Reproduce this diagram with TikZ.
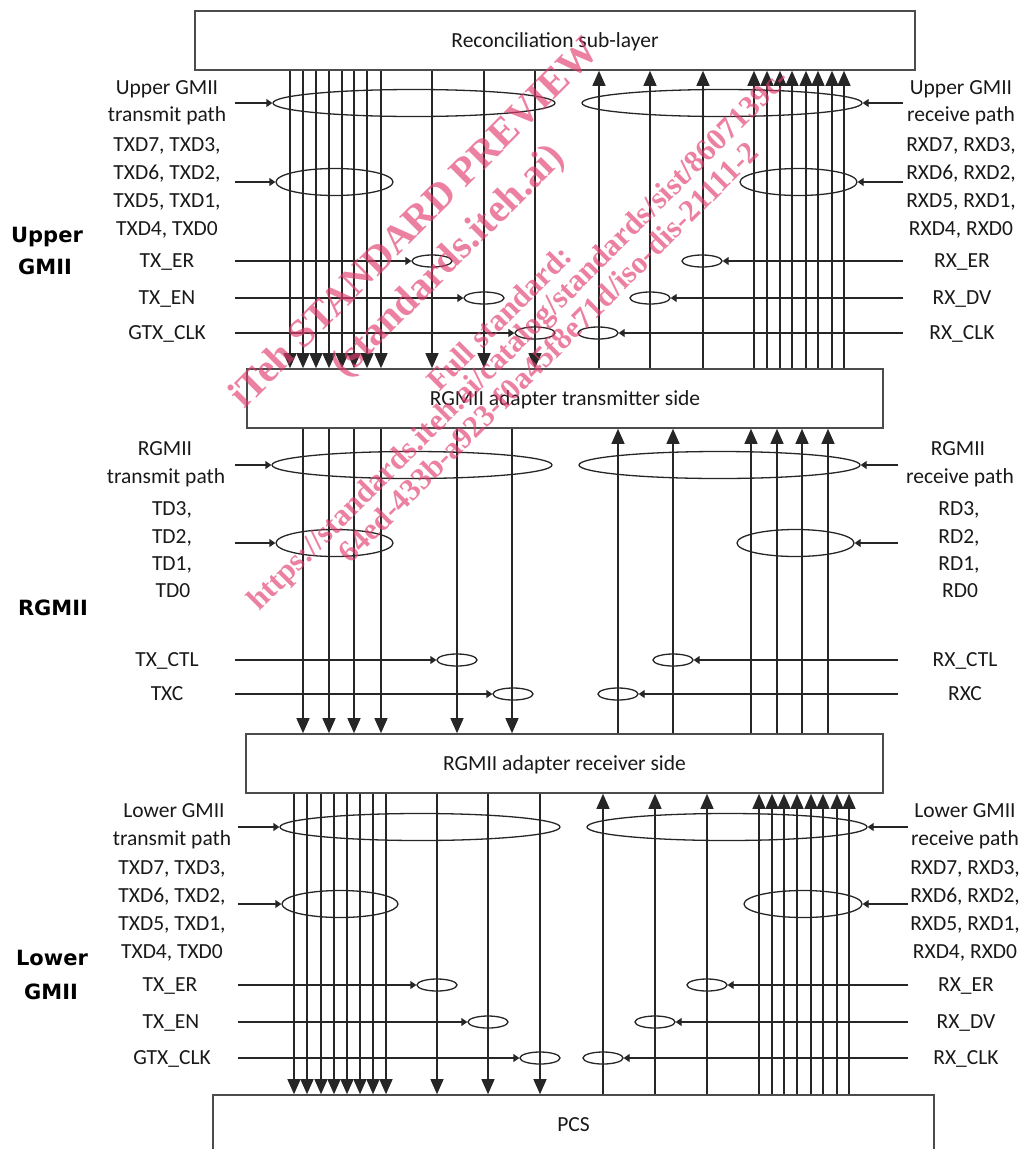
\documentclass[tikz,border=0pt]{standalone}
\usepackage{fontspec}
\setmainfont{Carlito}
\newfontfamily\seclabfont{DejaVu Sans}
\newfontfamily\wmfont{Liberation Serif}
\usetikzlibrary{arrows.meta,shapes.geometric}
\definecolor{wm}{RGB}{225,60,110}
\tikzset{
  blk/.style={draw=black!70, line width=1.6pt, inner sep=0pt, text=black!90,
    font=\fontsize{21.5}{24}\selectfont, text height=15pt, text depth=2pt},
  sig/.style={line width=1.3pt, draw=black!85, -{Triangle[length=15pt,width=13pt]}},
  feed/.style={line width=1.3pt, draw=black!85, -{Triangle[length=6pt,width=8pt]}},
  oval/.style={ellipse, draw=black!85, line width=1.3pt, inner sep=0pt},
  bigov/.style={oval, minimum width=281pt, minimum height=27pt},
  midov/.style={oval, minimum width=117pt, minimum height=27pt},
  smlov/.style={oval, minimum width=40pt, minimum height=12pt},
  lab/.style={inner sep=0pt, text=black!90, font=\fontsize{21.5}{24}\selectfont,
    text height=15pt, text depth=2pt},
  sec/.style={inner sep=0pt, text=black, font=\seclabfont\bfseries\fontsize{21}{24}\selectfont,
    text height=15pt, text depth=1pt},
  wmk/.style={inner sep=0pt, text=wm, text opacity=0.65, rotate=45}
}
\begin{document}
\begin{tikzpicture}[x=1pt,y=-1pt]
\useasboundingbox (0,0) rectangle (1025,1149);

% ---------- layer boxes ----------
\node[blk, minimum width=720pt, minimum height=59pt] (rsl) at (555,40.5) {Reconciliation sub-layer};
\node[blk, minimum width=636pt, minimum height=59pt] (rtx) at (565,398.5) {RGMII adapter transmitter side};
\node[blk, minimum width=637pt, minimum height=59pt] (rrx) at (564.5,763.5) {RGMII adapter receiver side};
\node[blk, minimum width=721pt, minimum height=60pt] (pcs) at (573.5,1125) {PCS};

% ---------- vertical signal lines ----------
% Upper GMII
\foreach \x in {290,303,316,329,342,354,367,381,432,484,535}
  \draw[sig] (rsl.south -| \x,0) -- (rtx.north -| \x,0);
\foreach \x in {599,650,703,754,767,780,792,806,818,832,844}
  \draw[sig] (rtx.north -| \x,0) -- (rsl.south -| \x,0);
% RGMII
\foreach \x in {303,329,354,381,457,512}
  \draw[sig] (rtx.south -| \x,0) -- (rrx.north -| \x,0);
\foreach \x in {618,673,751,777,802,828}
  \draw[sig] (rrx.north -| \x,0) -- (rtx.south -| \x,0);
% Lower GMII
\foreach \x in {294,307,321,334,347,360,373,386,437,488,540}
  \draw[sig] (rrx.south -| \x,0) -- (pcs.north -| \x,0);
\foreach \x in {603,655,707,759,772,784,797,811,823,837,849}
  \draw[sig] (pcs.north -| \x,0) -- (rrx.south -| \x,0);

% ---------- grouping ellipses ----------
% Upper GMII
\node[bigov, minimum width=282pt] (utb) at (414,103) {};
\node[midov] (utm) at (334.5,182) {};
\node[smlov] (uter) at (432,261) {};
\node[smlov] (uten) at (484,298) {};
\node[smlov] (utck) at (535,333) {};
\node[bigov, minimum width=280pt] (urb) at (722,103) {};
\node[midov] (urm) at (798.5,182) {};
\node[smlov] (urer) at (702,261) {};
\node[smlov] (urdv) at (650,298) {};
\node[smlov] (urck) at (598,333) {};
% RGMII
\node[bigov, minimum width=280pt] (mtb) at (412,465) {};
\node[midov] (mtm) at (334.5,543) {};
\node[smlov] (mtct) at (457,660) {};
\node[smlov] (mtxc) at (513,694) {};
\node[bigov] (mrb) at (719.5,465) {};
\node[midov] (mrm) at (795.5,543) {};
\node[smlov] (mrct) at (673,660) {};
\node[smlov] (mrxc) at (618,694) {};
% Lower GMII
\node[bigov, minimum width=280pt] (ltb) at (420,827) {};
\node[midov, minimum width=116pt] (ltm) at (340,904) {};
\node[smlov] (lter) at (437,985) {};
\node[smlov] (lten) at (488,1022) {};
\node[smlov] (ltck) at (540,1058) {};
\node[bigov, minimum width=280pt] (lrb) at (727,827) {};
\node[midov, minimum width=118pt] (lrm) at (803,904) {};
\node[smlov] (lrer) at (707,985) {};
\node[smlov] (lrdv) at (655,1022) {};
\node[smlov] (lrck) at (603,1058) {};

% ---------- feed arrows into the ellipses ----------
\foreach \n/\y in {utb/103,utm/182,uter/261,uten/298,utck/333,
                   mtb/465,mtm/543,mtct/660,mtxc/694}
  {\coordinate (s\n) at (235,\y); \draw[feed] (s\n) -- (\n.west);}
\foreach \n/\y in {urb/103,urm/182,urer/261,urdv/298,urck/333}
  {\coordinate (s\n) at (903,\y); \draw[feed] (s\n) -- (\n.east);}
\foreach \n/\y in {mrb/465,mrm/543,mrct/660,mrxc/694}
  {\coordinate (s\n) at (898,\y); \draw[feed] (s\n) -- (\n.east);}
\foreach \n/\y in {ltb/827,ltm/904,lter/985,lten/1022,ltck/1058}
  {\coordinate (s\n) at (238,\y); \draw[feed] (s\n) -- (\n.west);}
\foreach \n/\y in {lrb/827,lrm/904,lrer/985,lrdv/1022,lrck/1058}
  {\coordinate (s\n) at (908,\y); \draw[feed] (s\n) -- (\n.east);}

% ---------- signal labels ----------
% Upper GMII, left
\node[lab] (ul1) at (167,88) {Upper GMII};
\node[lab] (ul2) at (167,115) {transmit path};
\node[lab] (ul3) at (167,145) {TXD7, TXD3,};
\node[lab] (ul4) at (167,173) {TXD6, TXD2,};
\node[lab] (ul5) at (167,201) {TXD5, TXD1,};
\node[lab] (ul6) at (167,229) {TXD4, TXD0};
\node[lab] (ul7) at (167,261) {TX\_ER};
\node[lab] (ul8) at (167,298) {TX\_EN};
\node[lab] (ul9) at (167,333) {GTX\_CLK};
% Upper GMII, right
\node[lab] (ur1) at (961,88) {Upper GMII};
\node[lab] (ur2) at (961,115) {receive path};
\node[lab] (ur3) at (961,145) {RXD7, RXD3,};
\node[lab] (ur4) at (961,173) {RXD6, RXD2,};
\node[lab] (ur5) at (961,201) {RXD5, RXD1,};
\node[lab] (ur6) at (961,229) {RXD4, RXD0};
\node[lab] (ur7) at (962,261) {RX\_ER};
\node[lab] (ur8) at (962,298) {RX\_DV};
\node[lab] (ur9) at (962,333) {RX\_CLK};
% RGMII, left
\node[lab] (ml1) at (165,449) {RGMII};
\node[lab] (ml2) at (166,477) {transmit path};
\node[lab] (ml3) at (172,509) {TD3,};
\node[lab] (ml4) at (172,537) {TD2,};
\node[lab] (ml5) at (172,564) {TD1,};
\node[lab] (ml6) at (173,591) {TD0};
\node[lab] (ml7) at (167,660) {TX\_CTL};
\node[lab] (ml8) at (167,694) {TXC};
% RGMII, right
\node[lab] (mr1) at (958,449) {RGMII};
\node[lab] (mr2) at (960,477) {receive path};
\node[lab] (mr3) at (959,509) {RD3,};
\node[lab] (mr4) at (959,537) {RD2,};
\node[lab] (mr5) at (959,564) {RD1,};
\node[lab] (mr6) at (960,591) {RD0};
\node[lab] (mr7) at (965,660) {RX\_CTL};
\node[lab] (mr8) at (965,694) {RXC};
% Lower GMII, left
\node[lab] (ll1) at (174,811) {Lower GMII};
\node[lab] (ll2) at (172,839) {transmit path};
\node[lab] (ll3) at (172,868) {TXD7, TXD3,};
\node[lab] (ll4) at (172,896) {TXD6, TXD2,};
\node[lab] (ll5) at (172,924) {TXD5, TXD1,};
\node[lab] (ll6) at (172,952) {TXD4, TXD0};
\node[lab] (ll7) at (170,985) {TX\_ER};
\node[lab] (ll8) at (171,1022) {TX\_EN};
\node[lab] (ll9) at (172,1058) {GTX\_CLK};
% Lower GMII, right
\node[lab] (lr1) at (965,811) {Lower GMII};
\node[lab] (lr2) at (965,839) {receive path};
\node[lab] (lr3) at (965,868) {RXD7, RXD3,};
\node[lab] (lr4) at (965,896) {RXD6, RXD2,};
\node[lab] (lr5) at (965,924) {RXD5, RXD1,};
\node[lab] (lr6) at (965,952) {RXD4, RXD0};
\node[lab] (lr7) at (966,985) {RX\_ER};
\node[lab] (lr8) at (966,1022) {RX\_DV};
\node[lab] (lr9) at (966,1058) {RX\_CLK};

% ---------- section labels ----------
\node[sec] (s1a) at (47,235) {Upper};
\node[sec] (s1b) at (45,267) {GMII};
\node[sec] (s2) at (53,608) {RGMII};
\node[sec] (s3a) at (52,958) {Lower};
\node[sec] (s3b) at (51,992) {GMII};

% ---------- watermark ----------
\node[wmk, font=\wmfont\bfseries\fontsize{40}{40}\selectfont] (w1) at (413,222) {iTeh STANDARD PREVIEW};
\node[wmk, font=\wmfont\bfseries\fontsize{40}{40}\selectfont] (w2) at (449,262) {(standards.iteh.ai)};
\node[wmk, font=\wmfont\bfseries\fontsize{31}{31}\selectfont] (w3) at (499,318) {Full standard:};
\node[wmk, font=\wmfont\bfseries\fontsize{31}{31}\selectfont] (w4) at (520,341) {https://standards.iteh.ai/catalog/standards/sist/8607139c-};
\node[wmk, font=\wmfont\bfseries\fontsize{31}{31}\selectfont] (w5) at (548,352) {64ed-433b-a923-f0a45f8e71d/iso-dis-21111-2};
\end{tikzpicture}
\end{document}
